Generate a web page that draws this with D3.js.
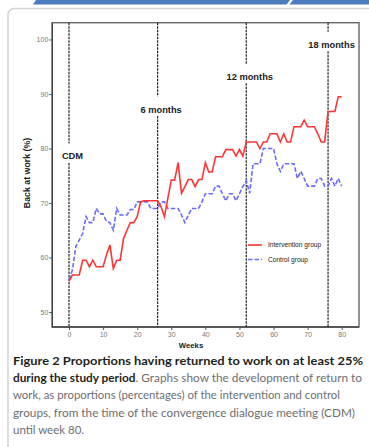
<!DOCTYPE html>
<html>
<head>
<meta charset="utf-8">
<script src="https://cdn.jsdelivr.net/npm/d3@7/dist/d3.min.js"></script>
<style>
  html, body { margin: 0; padding: 0; background: #fff; }
  svg { display: block; }
</style>
</head>
<body>
<svg id="fig" width="369" height="447"></svg>
<script>
// Weeks since the convergence dialogue meeting (CDM)
const weeks = d3.range(0, 81);

// Percentage back at work, intervention group (week 0..80)
const intervention = [
  55.6, 56.8, 56.8, 56.8, 59.5, 59.5, 58.3, 59.5, 58.3, 58.3,
  58.3, 60.5, 62.3, 58.0, 59.5, 59.5, 63.5, 65.0, 66.4, 66.4,
  67.5, 70.2, 70.4, 70.4, 70.4, 70.4, 70.4, 69.3, 67.5, 70.9,
  74.2, 74.2, 77.4, 71.8, 73.0, 74.3, 74.3, 73.0, 74.3, 74.3,
  77.4, 75.7, 75.7, 78.5, 78.5, 78.5, 79.8, 79.8, 79.8, 78.6,
  79.8, 78.6, 81.2, 81.2, 81.2, 81.2, 80.0, 81.2, 81.2, 82.7,
  82.7, 82.7, 81.2, 82.7, 81.2, 81.2, 84.0, 84.0, 84.0, 85.2,
  84.0, 84.0, 84.0, 82.7, 81.2, 81.2, 86.8, 86.8, 86.8, 89.5,
  89.5
];

// Percentage back at work, control group (week 0..80)
const control = [
  55.9, 57.7, 62.0, 63.2, 64.4, 67.5, 66.4, 66.4, 69.0, 68.0,
  68.0, 66.6, 66.4, 65.0, 69.0, 67.8, 67.8, 67.8, 68.8, 68.8,
  70.2, 70.2, 70.2, 70.2, 69.0, 69.0, 69.0, 70.2, 70.2, 69.0,
  69.0, 69.0, 69.0, 67.8, 66.4, 67.8, 69.0, 69.0, 69.0, 70.2,
  71.7, 71.7, 71.7, 73.1, 73.1, 71.7, 70.4, 71.7, 71.7, 70.4,
  71.7, 73.0, 74.1, 71.8, 77.2, 77.2, 77.2, 80.0, 80.0, 80.0,
  80.0, 77.2, 75.8, 77.2, 77.2, 77.2, 77.2, 74.5, 75.8, 74.5,
  73.1, 73.1, 73.1, 74.5, 74.5, 73.1, 73.1, 74.5, 73.1, 74.5,
  73.1
];

// Follow-up milestones marked with vertical reference lines
const milestoneWeeks = [0, 26, 52, 76];
const milestoneLabels = ["CDM", "6 months", "12 months", "18 months"];
const milestoneLabelValues = [78.0, 86.6, 92.6, 98.5];

const xTicks = [0, 10, 20, 30, 40, 50, 60, 70, 80];
const yTicks = [50, 60, 70, 80, 90, 100];

const seriesNames = ["Intervention group", "Control group"];

const svg = d3.select("#fig");

// ---- page chrome: header strip and figure panel border
svg.append("polygon")
  .attr("points", "33,4.5 36,0 290,0 286.5,4.5")
  .attr("fill", "#4a7cbe");
svg.append("polygon")
  .attr("points", "289.5,4.5 293,0 369,0 369,4.5")
  .attr("fill", "#4a7cbe");
svg.append("rect")
  .attr("x", 8).attr("y", 8.5)
  .attr("width", 400).attr("height", 480)
  .attr("rx", 6)
  .attr("fill", "none")
  .attr("stroke", "#d4d4d4")
  .attr("stroke-width", 1.5);

// ---- scales
const x = d3.scaleLinear().domain([0, 80]).range([69, 341.7]);
const y = d3.scaleLinear().domain([50, 100]).range([312, 39.5]);

const frame = { left: 52.3, right: 359, top: 22.7, bottom: 327 };

// ---- axes
const yAxis = d3.axisLeft(y).tickValues(yTicks).tickSize(3).tickPadding(1);
const gy = svg.append("g")
  .attr("transform", `translate(${frame.left},0)`)
  .call(yAxis);
gy.select(".domain").remove();
gy.selectAll(".tick line").attr("stroke", "#555");
gy.selectAll(".tick text")
  .attr("font-family", "Liberation Sans, Arial, sans-serif")
  .attr("font-size", 7)
  .attr("fill", "#777");

const xAxis = d3.axisBottom(x).tickValues(xTicks).tickSize(3).tickPadding(2);
const gx = svg.append("g")
  .attr("transform", `translate(0,${frame.bottom})`)
  .call(xAxis);
gx.select(".domain").remove();
gx.selectAll(".tick line").attr("stroke", "#555");
gx.selectAll(".tick text")
  .attr("font-family", "Liberation Sans, Arial, sans-serif")
  .attr("font-size", 7)
  .attr("fill", "#777");

// ---- plot frame
svg.append("rect")
  .attr("x", frame.left).attr("y", frame.top)
  .attr("width", frame.right - frame.left)
  .attr("height", frame.bottom - frame.top)
  .attr("fill", "none")
  .attr("stroke", "#666")
  .attr("stroke-width", 1.4);
svg.append("path")
  .attr("d", `M${frame.left},${frame.top}V${frame.bottom}H${frame.right}`)
  .attr("fill", "none")
  .attr("stroke", "#444")
  .attr("stroke-width", 1.4);

// ---- milestone reference lines, broken around their labels
const boldFont = "Liberation Sans, Arial, sans-serif";
milestoneWeeks.forEach((w, i) => {
  const lx = x(w);
  const ly = y(milestoneLabelValues[i]);
  const segs = [[frame.top, ly - 16], [ly + 3.5, frame.bottom]];
  segs.forEach(([a, b]) => {
    svg.append("line")
      .attr("x1", lx).attr("x2", lx)
      .attr("y1", a).attr("y2", b)
      .attr("stroke", "#222")
      .attr("stroke-width", 1.2)
      .attr("stroke-dasharray", "2.5,1");
  });
  svg.append("text")
    .attr("x", lx + 3.5)
    .attr("y", ly)
    .attr("text-anchor", "middle")
    .attr("font-family", boldFont)
    .attr("font-weight", "bold")
    .attr("font-size", 9.3)
    .attr("fill", "#222")
    .text(milestoneLabels[i]);
});

// ---- series lines
const line = d3.line()
  .x((d, i) => x(weeks[i]))
  .y(d => y(d));

svg.append("path")
  .datum(control)
  .attr("d", line)
  .attr("fill", "none")
  .attr("stroke", "#6b6bff")
  .attr("stroke-width", 1.6)
  .attr("stroke-dasharray", "4.5,2");

svg.append("path")
  .datum(intervention)
  .attr("d", line)
  .attr("fill", "none")
  .attr("stroke", "#ff3535")
  .attr("stroke-width", 1.6);

// ---- legend
const legend = svg.append("g");
const legendRows = [
  { name: seriesNames[0], color: "#ff3535", dash: null, yy: 245 },
  { name: seriesNames[1], color: "#6b6bff", dash: "4.5,2", yy: 259.5 }
];
legendRows.forEach(r => {
  legend.append("line")
    .attr("x1", 248).attr("x2", 262)
    .attr("y1", r.yy).attr("y2", r.yy)
    .attr("stroke", r.color)
    .attr("stroke-width", 1.6)
    .attr("stroke-dasharray", r.dash);
  legend.append("text")
    .attr("x", 268).attr("y", r.yy + 2.3)
    .attr("font-family", "Liberation Sans, Arial, sans-serif")
    .attr("font-size", 6.6)
    .attr("fill", "#222")
    .text(r.name);
});

// ---- axis titles
svg.append("text")
  .attr("x", 191).attr("y", 348)
  .attr("text-anchor", "middle")
  .attr("font-family", boldFont)
  .attr("font-weight", "bold")
  .attr("font-size", 7.8)
  .attr("fill", "#222")
  .text("Weeks");

svg.append("text")
  .attr("transform", "translate(29.5,173) rotate(-90)")
  .attr("text-anchor", "middle")
  .attr("font-family", boldFont)
  .attr("font-weight", "bold")
  .attr("font-size", 8.8)
  .attr("fill", "#222")
  .text("Back at work (%)");

// ---- caption
const capFont = "Lato, 'Open Sans', sans-serif";
const capDark = "#231f20";
const capGray = "#6d6e71";
const caption = [
  { parts: [["Figure 2 Proportions having returned to work on at least 25%", true]], y: 365, len: 350 },
  { parts: [["during the study period", true], [". Graphs show the development of return to", false]], y: 382.2, len: 349 },
  { parts: [["work, as proportions (percentages) of the intervention and control", false]], y: 399.4, len: 327 },
  { parts: [["groups, from the time of the convergence dialogue meeting (CDM)", false]], y: 416.6, len: 342 },
  { parts: [["until week 80.", false]], y: 433.8, len: 71 }
];
caption.forEach(c => {
  const t = svg.append("text")
    .attr("x", 13).attr("y", c.y)
    .attr("font-family", capFont)
    .attr("font-size", 12)
    .attr("textLength", c.len)
    .attr("lengthAdjust", "spacingAndGlyphs");
  c.parts.forEach(([s, bold]) => {
    t.append("tspan")
      .attr("font-weight", bold ? "bold" : "normal")
      .attr("fill", bold ? capDark : capGray)
      .text(s);
  });
});
</script>
</body>
</html>
